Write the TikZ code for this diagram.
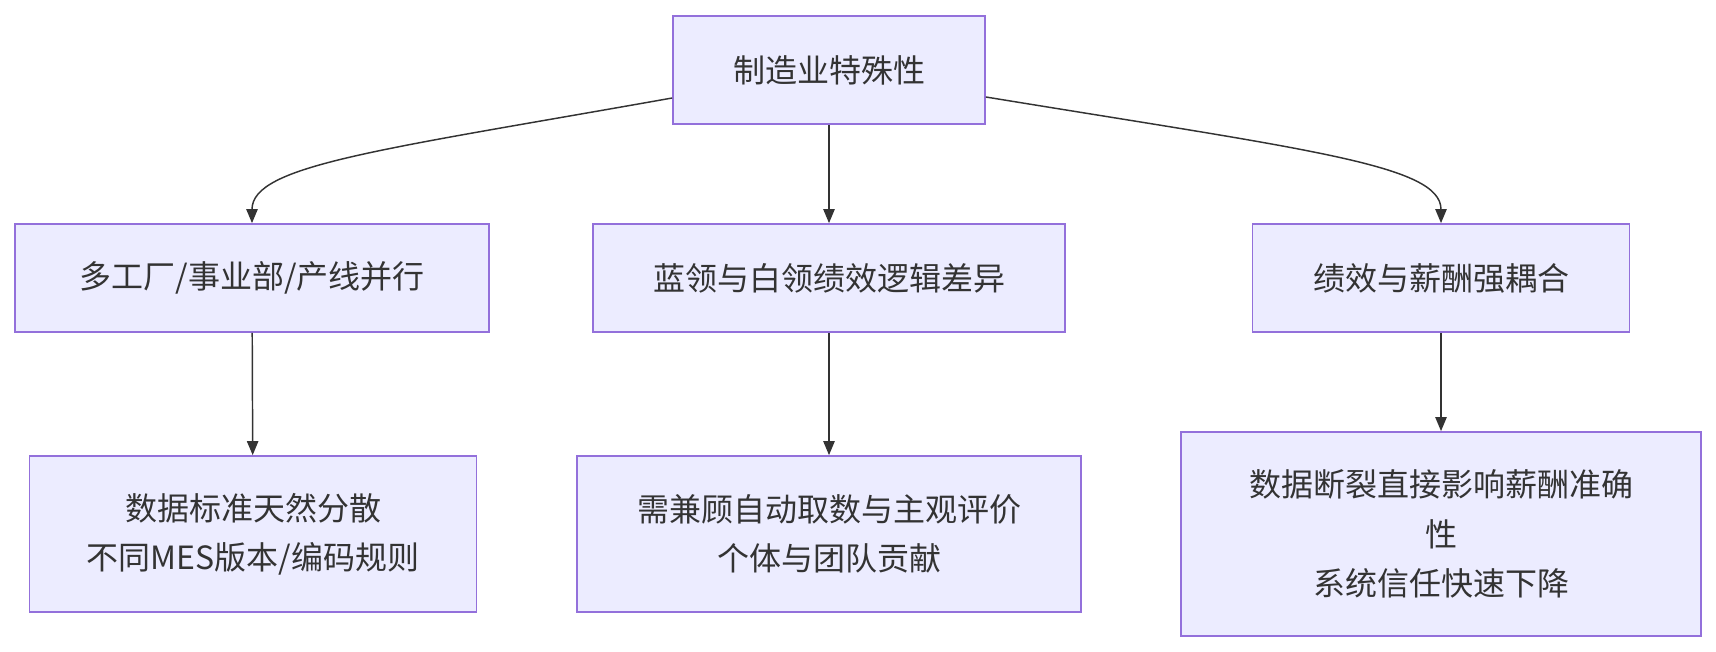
\documentclass[tikz,border=0pt]{standalone}
\usepackage{fontspec}
\setmainfont{Noto Sans CJK SC}
\usetikzlibrary{arrows.meta}
\definecolor{boxfill}{HTML}{ECECFF}
\definecolor{boxline}{HTML}{9370DB}
\definecolor{ink}{HTML}{333333}
\begin{document}
\begin{tikzpicture}[x=0.75pt, y=-0.75pt, every node/.style={font=\fontsize{24}{37}\selectfont, text=ink},
	box/.style={draw=boxline, fill=boxfill, line width=1.3pt, align=center, inner sep=0pt},
	link/.style={draw=ink, line width=1.1pt, -{Triangle[length=10.5pt,width=8.5pt]}}]
	\useasboundingbox (0,0) rectangle (1716,652);
	\node[box, minimum width=0.75*312, minimum height=0.75*108] (mfg) at (829,70) {制造业特殊性};
	\node[box, minimum width=0.75*474, minimum height=0.75*108] (factory) at (252,278) {多工厂/事业部/产线并行};
	\node[box, minimum width=0.75*472, minimum height=0.75*108] (collar) at (829,278) {蓝领与白领绩效逻辑差异};
	\node[box, minimum width=0.75*377, minimum height=0.75*108] (pay) at (1441,278) {绩效与薪酬强耦合};
	\node[box, minimum width=0.75*447, minimum height=0.75*156] (scatter) at (253,534) {数据标准天然分散\\不同MES版本/编码规则};
	\node[box, minimum width=0.75*504, minimum height=0.75*156] (eval) at (829,534) {需兼顾自动取数与主观评价\\个体与团队贡献};
	\node[box, minimum width=0.75*520, minimum height=0.75*204] (trust) at (1441,534) {数据断裂直接影响薪酬准确\\性\\系统信任快速下降};
	\draw[link] (mfg.west |- 0,98) .. controls (380,150) and (252,165) .. (factory.north);
	\draw[link] (mfg.east |- 0,97) .. controls (1310,150) and (1441,165) .. (pay.north);
	\draw[link] (mfg) -- (collar);
	\draw[link] (factory) -- (scatter);
	\draw[link] (collar) -- (eval);
	\draw[link] (pay) -- (trust);
\end{tikzpicture}
\end{document}
